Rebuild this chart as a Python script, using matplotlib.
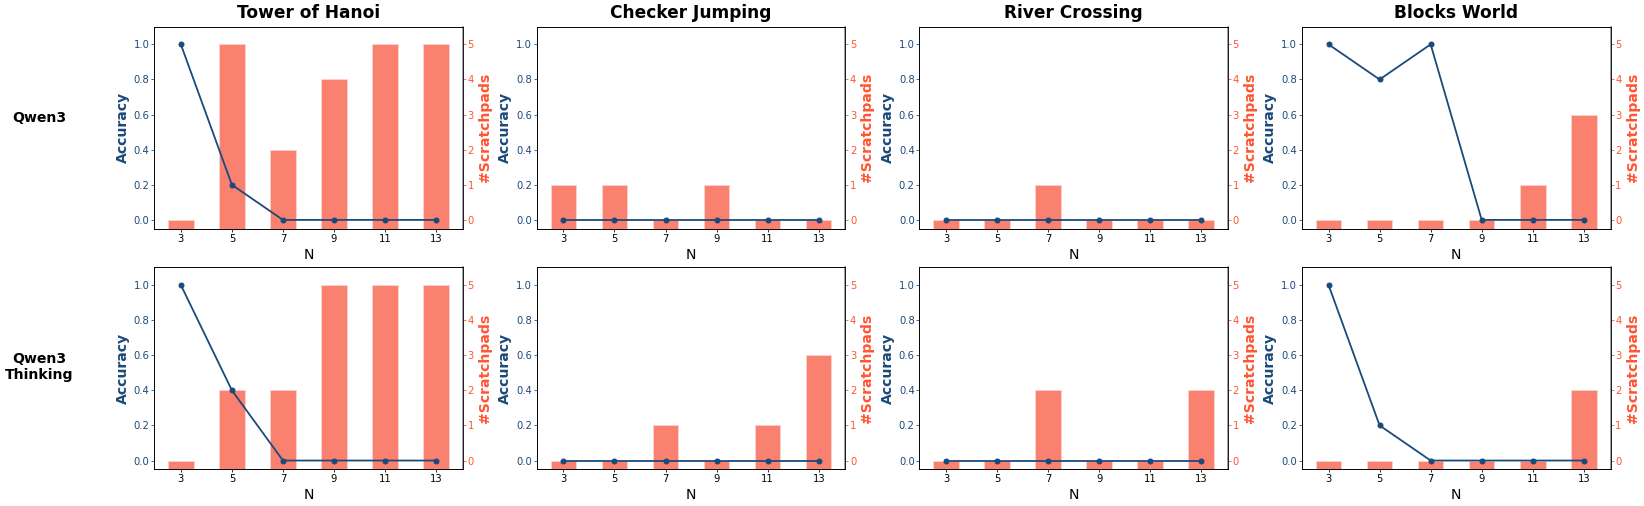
import numpy as np
import matplotlib
matplotlib.use("Agg")
import matplotlib.pyplot as plt

n_values = [3, 5, 7, 9, 11, 13]
tasks = ["Tower of Hanoi", "Checker Jumping", "River Crossing", "Blocks World"]
models = ["Qwen3", "Qwen3\nThinking"]

# accuracy per task (Qwen3)
acc_qwen3_hanoi = [1.0, 0.2, 0.0, 0.0, 0.0, 0.0]
acc_qwen3_checker = [0.0, 0.0, 0.0, 0.0, 0.0, 0.0]
acc_qwen3_river = [0.0, 0.0, 0.0, 0.0, 0.0, 0.0]
acc_qwen3_blocks = [1.0, 0.8, 1.0, 0.0, 0.0, 0.0]
# number of scratchpads (Qwen3)
pad_qwen3_hanoi = [0, 5, 2, 4, 5, 5]
pad_qwen3_checker = [1, 1, 0, 1, 0, 0]
pad_qwen3_river = [0, 0, 1, 0, 0, 0]
pad_qwen3_blocks = [0, 0, 0, 0, 1, 3]

# Qwen3 Thinking
acc_think_hanoi = [1.0, 0.4, 0.0, 0.0, 0.0, 0.0]
acc_think_checker = [0.0, 0.0, 0.0, 0.0, 0.0, 0.0]
acc_think_river = [0.0, 0.0, 0.0, 0.0, 0.0, 0.0]
acc_think_blocks = [1.0, 0.2, 0.0, 0.0, 0.0, 0.0]
pad_think_hanoi = [0, 2, 2, 5, 5, 5]
pad_think_checker = [0, 0, 1, 0, 1, 3]
pad_think_river = [0, 0, 2, 0, 0, 2]
pad_think_blocks = [0, 0, 0, 0, 0, 2]

acc_rows = [
    [acc_qwen3_hanoi, acc_qwen3_checker, acc_qwen3_river, acc_qwen3_blocks],
    [acc_think_hanoi, acc_think_checker, acc_think_river, acc_think_blocks],
]
pad_rows = [
    [pad_qwen3_hanoi, pad_qwen3_checker, pad_qwen3_river, pad_qwen3_blocks],
    [pad_think_hanoi, pad_think_checker, pad_think_river, pad_think_blocks],
]

line_color = "#1a4a7a"
bar_color = "#FA8070"
pad_color = "#FF5533"

fig, axes = plt.subplots(2, 4, figsize=(1644 / 72, 506 / 72), dpi=72)
fig.subplots_adjust(left=0.0937, right=0.9797, top=0.947, bottom=0.0725,
                    wspace=0.2385, hspace=0.192)

pad_bottom = -0.3
for r in range(2):
    for c in range(4):
        ax = axes[r, c]
        ax2 = ax.twinx()
        pads = np.array(pad_rows[r][c], dtype=float)
        ax2.bar(n_values, pads - pad_bottom, bottom=pad_bottom, width=1.0,
                color=bar_color, edgecolor="#fbd0c8", linewidth=1.0)
        ax2.set_ylim(-0.25, 5.5)
        ax2.set_yticks([0, 1, 2, 3, 4, 5])
        ax2.tick_params(axis="y", colors=pad_color, labelsize=10, pad=1.5,
                        length=3)
        ax2.set_ylabel("#Scratchpads", color=pad_color, fontsize=14,
                       fontweight="bold")
        ax2.spines["right"].set_color("gray")
        ax2.spines["right"].set_linewidth(1.5)

        ax.set_zorder(ax2.get_zorder() + 1)
        ax.patch.set_visible(False)
        ax.plot(n_values, acc_rows[r][c], marker="o", markersize=5,
                color=line_color, linewidth=1.8)
        ax.set_ylim(-0.05, 1.1)
        ax.set_xlim(1.95, 14.05)
        ax.set_xticks(n_values)
        ax.set_yticks([0.0, 0.2, 0.4, 0.6, 0.8, 1.0])
        ax.tick_params(axis="y", colors=line_color, labelsize=10, pad=1.5,
                       length=3)
        ax.tick_params(axis="x", labelsize=10, pad=2, length=3)
        ax.set_ylabel("Accuracy", color=line_color, fontsize=14,
                      fontweight="bold")
        ax.set_xlabel("N", fontsize=14)
        if r == 0:
            ax.set_title(tasks[c], fontsize=17, fontweight="bold", pad=9)

fig.text(0.024, 0.766, models[0], ha="center", va="center",
         fontsize=14, fontweight="bold")
fig.text(0.024, 0.274, models[1], ha="center", va="center",
         fontsize=14, fontweight="bold")

plt.savefig("out.png", dpi=72)
